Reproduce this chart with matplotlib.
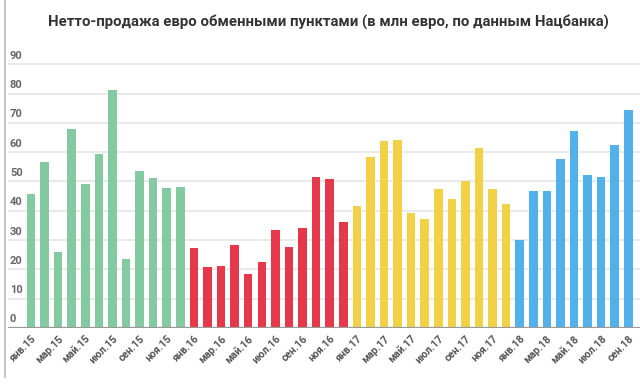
import matplotlib
matplotlib.use("Agg")
import matplotlib.pyplot as plt
from matplotlib.lines import Line2D

months = ["янв", "фев", "мар", "апр", "май", "июн", "июл", "авг", "сен", "окт", "ноя", "дек"]
years = ["15", "16", "17", "18"]
labels = [f"{m}.{y}" for y in years for m in months][:45]

values_2015 = [45.8, 56.8, 25.9, 67.8, 49.3, 59.3, 81.1, 23.4, 53.5, 51.3, 47.8, 48.0]
values_2016 = [27.2, 20.9, 21.3, 28.3, 18.6, 22.4, 33.5, 27.7, 34.1, 51.6, 50.8, 36.3]
values_2017 = [41.5, 58.2, 63.8, 64.0, 39.3, 37.3, 47.5, 43.9, 50.0, 61.5, 47.6, 42.4]
values_2018 = [29.9, 46.9, 46.6, 57.7, 67.2, 52.3, 51.7, 62.6, 74.3]

year_colors = ["#84CAA1", "#E5384A", "#F1D246", "#52B0EA"]
yticks = [0, 10, 20, 30, 40, 50, 60, 70, 80, 90]
title = "Нетто-продажа евро обменными пунктами (в млн евро, по данным Нацбанка)"

plt.rcParams['font.family'] = ['Roboto', 'DejaVu Sans']

W, H = 640, 385
fig = plt.figure(figsize=(W / 100, H / 100), dpi=100)
ax = fig.add_axes([8 / W, 1 - 328 / H, 1 - 8 / W, (328 - 35) / H])

series = [values_2015, values_2016, values_2017, values_2018]
x0 = 0
for vals, col in zip(series, year_colors):
    xs = list(range(x0, x0 + len(vals)))
    ax.bar(xs, vals, width=0.63, color=col, zorder=3)
    x0 += len(vals)

ax.set_xlim(-1.695, 44.86)
ax.set_ylim(0, 100)

for s in ax.spines.values():
    s.set_visible(False)
ax.set_yticks([])
for t in yticks[1:]:
    ax.axhline(t, color="#E6E6E6", lw=1.2, zorder=1)
ax.axhline(0, color="#9A9A9A", lw=1.6, zorder=4)
for t in yticks:
    ax.text(0.003, t + 1.2, str(t), transform=ax.get_yaxis_transform(),
            ha="left", va="bottom", fontsize=8, color="#666666", fontweight="bold")

ticks = list(range(0, 45, 2))
ax.set_xticks(ticks)
ax.set_xticklabels([labels[i] for i in ticks], rotation=45, ha="right",
                   rotation_mode="anchor", fontsize=7.5, color="#555555", fontweight="bold")
ax.tick_params(axis="x", length=0, pad=4)

fig.text(328 / W, 1 - 22 / H, title, ha="center", va="center", fontsize=10.7,
         fontweight="bold", color="#333333")

fig.add_artist(Line2D([4.5 / W, 4.5 / W], [1 - 377 / H, 1.0], transform=fig.transFigure,
                      color="#BBBBBB", lw=1.2))

fig.savefig("out.png", dpi=100)
